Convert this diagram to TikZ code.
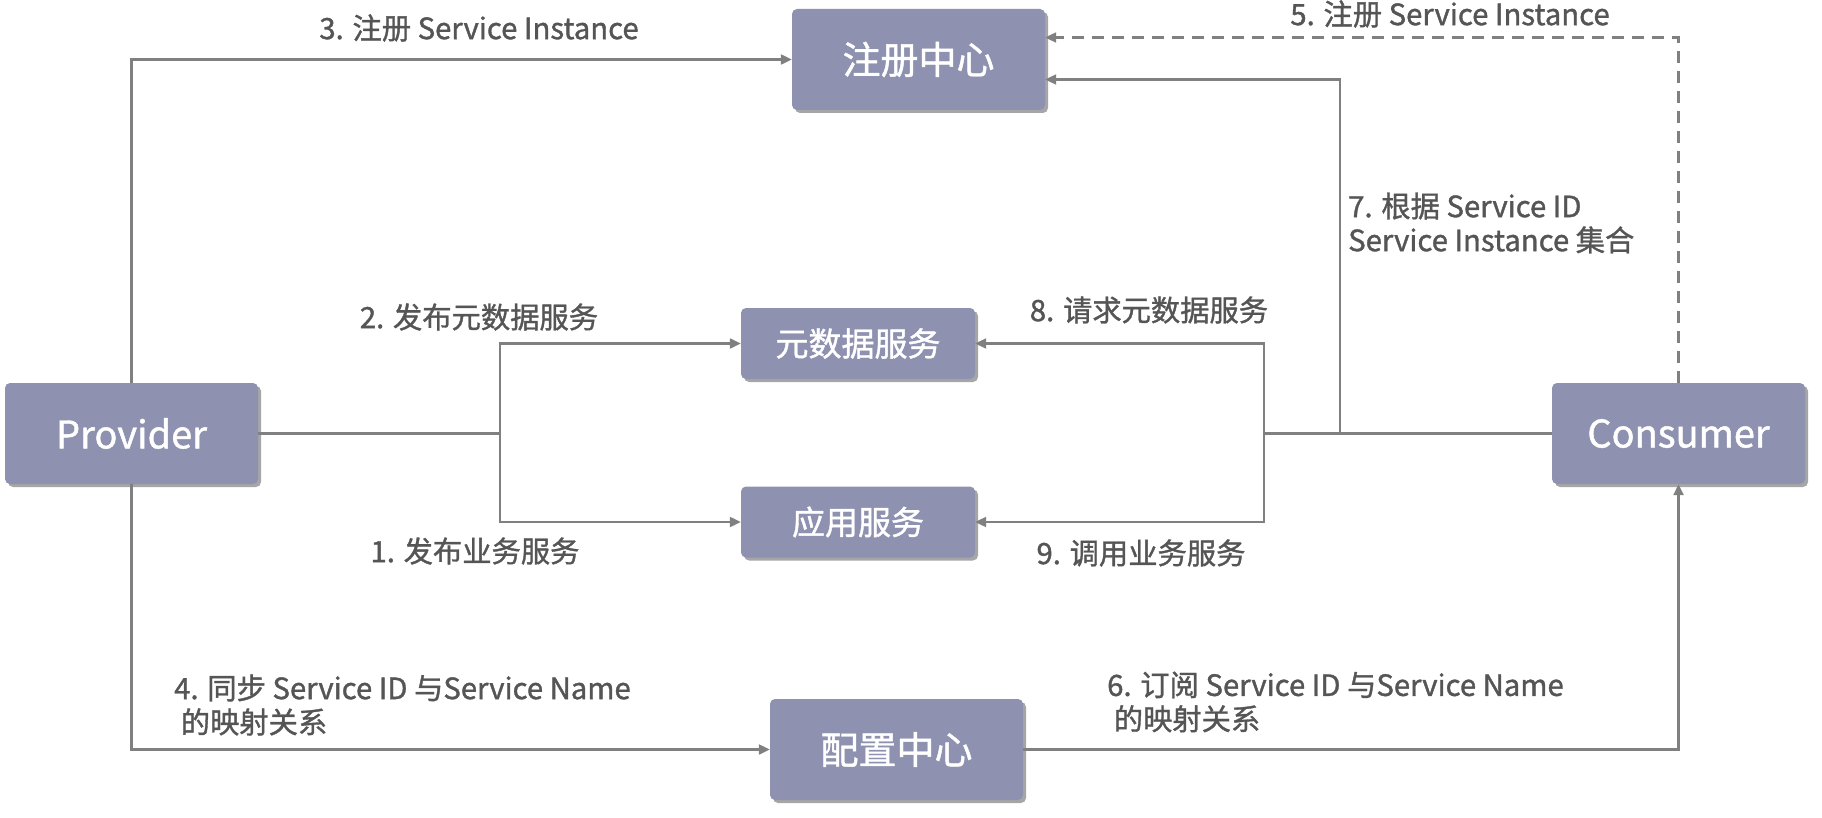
\documentclass[tikz,border=0pt]{standalone}
\usepackage{fontspec}
\setmainfont{Noto Sans CJK SC}[FakeBold=1.2]
\usetikzlibrary{arrows.meta,shadows,calc}
\definecolor{boxc}{HTML}{8E92B0}
\definecolor{linec}{HTML}{808080}
\definecolor{textc}{HTML}{555555}
\tikzset{
  bigbox/.style={draw=none,fill=boxc,rounded corners=5pt,minimum width=253pt,minimum height=101pt,inner sep=0pt,
    text=white,font=\fontsize{38}{44}\selectfont,
    drop shadow={shadow xshift=3pt,shadow yshift=-3pt,opacity=0.35,fill=black}},
  smallbox/.style={bigbox,minimum width=234pt,minimum height=71pt,font=\fontsize{33}{40}\selectfont},
  conn/.style={draw=linec,line width=2.2pt},
  arr/.style={conn,-{Triangle[length=11pt,width=10pt]}},
  dashconn/.style={arr,dash pattern=on 12pt off 8pt},
  lbl/.style={text=textc,font=\fontsize{29.3}{34}\selectfont,inner sep=0pt,align=left},
}
\begin{document}
\begin{tikzpicture}[x=1pt,y=-1pt]
\useasboundingbox (0,0) rectangle (1822,818);
\node[bigbox] (reg) at (918.5,59.5) {注册中心};
\node[bigbox] (provider) at (131.5,433.5) {Provider};
\node[bigbox] (consumer) at (1678.5,433.5) {Consumer};
\node[smallbox] (meta) at (858,343.5) {元数据服务};
\node[smallbox] (app) at (858,522) {应用服务};
\node[bigbox] (cfg) at (896.5,749.5) {配置中心};
\coordinate (pj) at (500,433.5);
\coordinate (cj) at (1264,433.5);
\coordinate (c7) at (1340,433.5);
% provider side
\draw[arr] (provider.north) |- (reg.west);
\draw[conn] (provider.east) -- (pj);
\draw[arr] (pj) |- (meta.west);
\draw[arr] (pj) |- (app.west);
\draw[arr] (provider.south) |- (cfg.west);
% consumer side
\draw[dashconn] (consumer.north) |- ([yshift=22pt]reg.east);
\draw[conn] (consumer.west) -- (cj);
\draw[arr] (c7) |- ([yshift=-20pt]reg.east);
\draw[arr] (cj) |- (meta.east);
\draw[arr] (cj) |- (app.east);
\draw[arr] (cfg.east) -| (consumer.south);
% labels
\node[lbl] (l3) at (479,28) {3. 注册 Service Instance};
\node[lbl] (l5) at (1450,14) {5. 注册 Service Instance};
\node[lbl,anchor=west] (l7) at (1348,223) {7. 根据 Service ID\\Service Instance 集合};
\node[lbl] (l2) at (479,317) {2. 发布元数据服务};
\node[lbl] (l1) at (475,551) {1. 发布业务服务};
\node[lbl] (l8) at (1149,310) {8. 请求元数据服务};
\node[lbl] (l9) at (1141,553) {9. 调用业务服务};
\node[lbl,anchor=west] (l4) at (174,705) {4. 同步 Service ID 与Service Name\\ \ 的映射关系};
\node[lbl,anchor=west] (l6) at (1107,702) {6. 订阅 Service ID 与Service Name\\ \ 的映射关系};
\end{tikzpicture}
\end{document}
